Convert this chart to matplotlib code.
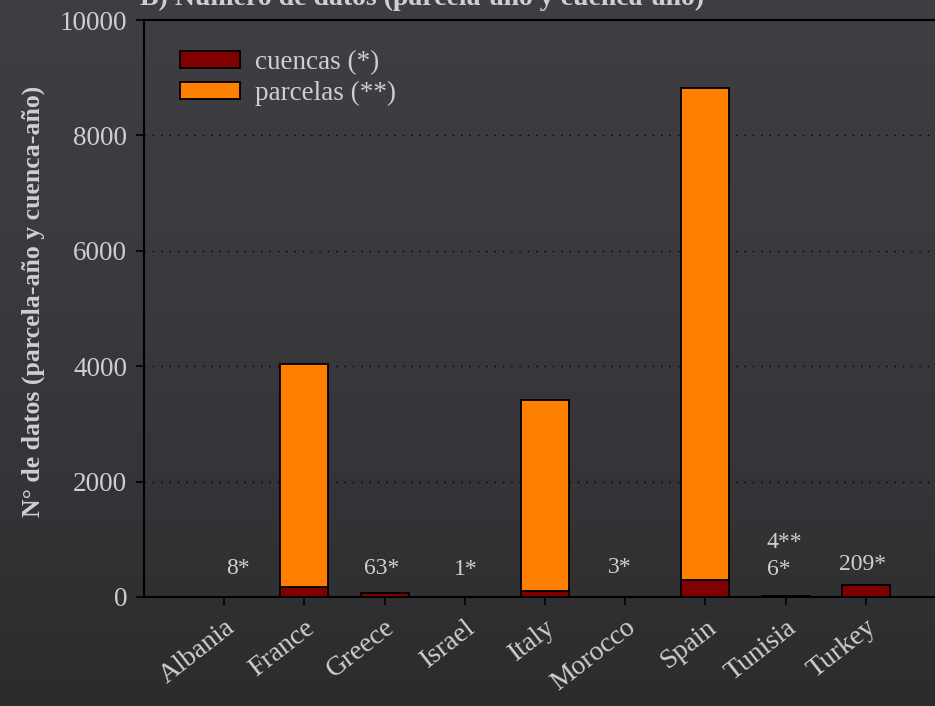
import numpy as np
import matplotlib
matplotlib.use("Agg")
import matplotlib.pyplot as plt
from matplotlib.colors import LinearSegmentedColormap

countries = ["Albania", "France", "Greece", "Israel", "Italy", "Morocco", "Spain", "Tunisia", "Turkey"]
cuencas = [8, 175, 63, 1, 100, 3, 290, 6, 209]
parcelas = [0, 3870, 0, 0, 3310, 0, 8530, 4, 0]
ann_text = ["8*", "63*", "1*", "3*", "4**", "6*", "209*"]
ann_x = [0.17, 1.96, 3.01, 4.93, 6.98, 6.92, 7.96]
ann_y = [500, 500, 480, 510, 950, 480, 570]

serif = ["Liberation Serif", "DejaVu Serif"]
txt_col = "#cfcfd2"

fig = plt.figure(figsize=(9.35, 7.06), dpi=100)
bg = fig.add_axes([0, 0, 1, 1], zorder=-10)
grad = np.linspace(0, 1, 256)[:, None]
cm = LinearSegmentedColormap.from_list("bg", ["#3e3e43", "#3a3a3f", "#353539", "#2c2c2d"])
bg.imshow(grad, aspect="auto", cmap=cm, extent=[0, 1, 0, 1], origin="upper")
bg.axis("off")

ax = fig.add_axes([144/935, 1-597/706, 1 - 144/935 + 0.01, (597-20)/706])
ax.patch.set_alpha(0)
x = np.arange(len(countries))
ax.bar(x, cuencas, width=0.6, color="#800000", edgecolor="black", linewidth=1.3, label="cuencas (*)", zorder=3)
ax.bar(x, parcelas, width=0.6, bottom=cuencas, color="#ff8000", edgecolor="black", linewidth=1.3, label="parcelas (**)", zorder=3)

ax.set_xlim(-1, 8.98)
ax.set_ylim(0, 10000)
ax.set_yticks([0, 2000, 4000, 6000, 8000, 10000])
ax.set_xticks(x)
ax.set_xticklabels(countries, rotation=38, ha="right", rotation_mode="anchor",
                   family=serif, fontsize=20, color=txt_col)
for lab in ax.get_yticklabels():
    lab.set_family(serif)
    lab.set_fontsize(19.5)
    lab.set_color(txt_col)
ax.tick_params(axis="both", direction="out", length=6, width=1.2, color="black")
ax.tick_params(axis="x", pad=7)
ax.tick_params(axis="y", pad=6)
for yv in [2000, 4000, 6000, 8000]:
    ax.axhline(yv, color="black", linestyle=(0, (1, 5)), linewidth=1.0, zorder=1)
for s in ["left", "bottom", "top"]:
    ax.spines[s].set_color("black")
    ax.spines[s].set_linewidth(1.5)
ax.spines["right"].set_visible(False)

for t, xx, yy in zip(ann_text, ann_x, ann_y):
    ax.text(xx, yy, t, ha="center", va="center", family=serif, fontsize=17, color=txt_col)

ax.set_ylabel("N° de datos (parcela-año y cuenca-año)", family=serif, fontsize=18.5,
              fontweight="bold", color=txt_col)
ax.yaxis.set_label_coords(-0.124, 0.513)

leg = ax.legend(loc="upper left", bbox_to_anchor=(0.015, 0.99), frameon=False,
                prop={"family": serif, "size": 19.5}, handlelength=2.2, handleheight=0.6,
                labelspacing=0.2, handletextpad=0.55)
for t in leg.get_texts():
    t.set_color(txt_col)

fig.text(140/935, 1 - 5/706, "B) Número de datos (parcela-año y cuenca-año)", family=serif,
         fontsize=20, fontweight="bold", color=txt_col, ha="left", va="baseline")

fig.savefig("out.png", dpi=100, facecolor="#3a3a3e")
